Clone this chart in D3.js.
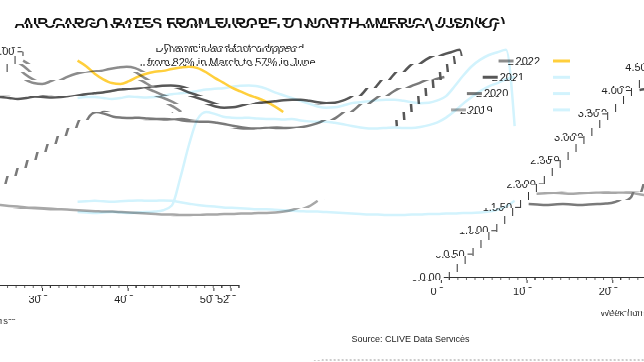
<!DOCTYPE html>
<html>
<head>
<meta charset="utf-8">
<script src="https://cdn.jsdelivr.net/npm/d3@7"></script>
<style>
  html, body { margin: 0; padding: 0; background: #fff; }
  svg { display: block; font-family: "Liberation Sans", Arial, sans-serif; }
</style>
</head>
<body>
<svg id="chart" width="644" height="362"></svg>
<script>
// weekly rates, USD/kg
var weeks = d3.range(1, 53);
var weeks2022 = d3.range(1, 26);
var rates2019 = [1.78, 1.79, 1.80, 1.79, 1.78, 1.79, 1.80, 1.81, 1.80, 1.80, 1.81, 1.80, 1.77,
    1.74, 1.71, 1.69, 1.68, 1.66, 1.65, 1.64, 1.63, 1.62, 1.62, 1.61, 1.60, 1.59,
    1.58, 1.57, 1.57, 1.56, 1.55, 1.54, 1.53, 1.52, 1.51, 1.51, 1.50, 1.50, 1.50,
    1.51, 1.51, 1.52, 1.52, 1.53, 1.53, 1.54, 1.54, 1.55, 1.57, 1.61, 1.68, 1.80];
var rates2020 = [1.56, 1.55, 1.54, 1.55, 1.56, 1.55, 1.54, 1.55, 1.56, 1.57, 1.60, 1.70, 2.30,
    3.00, 3.55, 3.70, 3.66, 3.60, 3.58, 3.57, 3.58, 3.56, 3.55, 3.55, 3.54, 3.55,
    3.52, 3.50, 3.49, 3.49, 3.47, 3.44, 3.40, 3.37, 3.35, 3.35, 3.36, 3.37, 3.36,
    3.36, 3.38, 3.42, 3.48, 3.58, 3.72, 3.88, 4.02, 4.15, 4.25, 4.32, 4.40, 4.45];
var rates2021 = [4.00, 4.02, 4.02, 4.00, 3.98, 4.00, 4.03, 4.02, 4.01, 4.02, 4.05, 4.08, 4.10,
    4.12, 4.15, 4.18, 4.20, 4.21, 4.24, 4.26, 4.27, 4.25, 4.20, 4.12, 4.06, 4.00,
    3.94, 3.88, 3.82, 3.79, 3.80, 3.84, 3.89, 3.91, 3.93, 3.95, 3.96, 3.96, 3.94,
    3.91, 3.89, 3.90, 3.95, 4.04, 4.25, 4.48, 4.68, 4.82, 4.92, 4.98, 5.03, 3.40];
var rates2022 = [4.80, 4.68, 4.52, 4.40, 4.32, 4.30, 4.36, 4.45, 4.52, 4.56, 4.58, 4.62, 4.65,
    4.67, 4.64, 4.55, 4.43, 4.33, 4.22, 4.14, 4.06, 4.00, 3.92, 3.82, 3.70];

var years = ["2022", "2021", "2020", "2019"];
var yTicks = d3.range(0, 5.01, 0.5);
var xMajor = [0, 10, 20, 30, 40, 50, 52];

var series = [
    {year: "2022", weeks: weeks2022, values: rates2022, gray: "#8c8c8c", color: "#ffcf3c"},
    {year: "2021", weeks: weeks, values: rates2021, gray: "#575757", color: "#d2f3fd"},
    {year: "2020", weeks: weeks, values: rates2020, gray: "#7a7a7a", color: "#d2f3fd"},
    {year: "2019", weeks: weeks, values: rates2019, gray: "#a8a8a8", color: "#d2f3fd"}
];

var W = 644, H = 362;
// the picture is the chart sliced into 8px bands, each band slid left a bit more
var BAND = 8, WRAP = 656, ORIG_W = 648, SHIFT0 = -22, STEP = 7.92;

var svg = d3.select("#chart");
svg.append("rect").attr("width", W).attr("height", H).attr("fill", "#fff");
var defs = svg.append("defs");
var orig = defs.append("g").attr("id", "orig");

var x = d3.scaleLinear().domain([0, 52]).range([48, 48 + 52 * 8.57]);
var y = d3.scaleLinear().domain([0, 5]).range([285, 51.25]);

var line = d3.line()
    .x(function(d) { return x(d.w); })
    .y(function(d) { return y(d.v); })
    .curve(d3.curveMonotoneX);

function points(s) {
    return s.weeks.map(function(w, i) { return {w: w, v: s.values[i]}; });
}

orig.append("text")
    .attr("x", 16).attr("y", 28)
    .attr("font-size", 15).attr("font-weight", "bold").attr("fill", "#111")
    .text("AIR CARGO RATES FROM EUROPE TO NORTH AMERICA (USD/KG)");

orig.append("text")
    .attr("x", 181).attr("y", 52)
    .attr("font-size", 11).attr("fill", "#222")
    .text("Dynamic load factor dropped");
orig.append("text")
    .attr("x", 181).attr("y", 66)
    .attr("font-size", 11).attr("fill", "#222")
    .text("from 82% in March to 57% in June");

var yAxis = orig.append("g")
    .attr("transform", "translate(48,0)")
    .call(d3.axisLeft(y).tickValues(yTicks).tickFormat(d3.format(".2f"))
        .tickSize(5).tickSizeOuter(0).tickPadding(3));
yAxis.selectAll("text").attr("font-size", 11).attr("fill", "#222").attr("font-family", null);
yAxis.selectAll("line, path").attr("stroke", "#333");

var xMinor = orig.append("g")
    .attr("transform", "translate(0,285)")
    .call(d3.axisBottom(x).tickValues(d3.range(0, 53)).tickFormat("").tickSize(3).tickSizeOuter(0));
xMinor.selectAll("line, path").attr("stroke", "#666");

var xAxis = orig.append("g")
    .attr("transform", "translate(0,285)")
    .call(d3.axisBottom(x).tickValues(xMajor).tickFormat(d3.format("d"))
        .tickSize(6).tickSizeOuter(0).tickPadding(4));
xAxis.selectAll("text").attr("font-size", 11).attr("fill", "#222").attr("font-family", null);
xAxis.selectAll("line, path").attr("stroke", "#333");

orig.append("text")
    .attr("x", 239).attr("y", 324)
    .attr("font-size", 9.5).attr("fill", "#333")
    .text("Week numbers");

orig.append("text")
    .attr("x", 14).attr("y", 350)
    .attr("font-size", 9).attr("fill", "#222")
    .text("Source: CLIVE Data Services");

orig.append("line")
    .attr("x1", 0).attr("x2", ORIG_W).attr("y1", 368).attr("y2", 368)
    .attr("stroke", "#999").attr("stroke-dasharray", "2,2");

orig.selectAll("path.series")
    .data(series.slice().reverse())
    .enter().append("path")
    .attr("class", "series")
    .attr("d", function(s) { return line(points(s)); })
    .attr("fill", "none")
    .attr("stroke", function(s) { return s.gray; })
    .attr("stroke-width", 2.5);

var legend = orig.selectAll("g.legend")
    .data(series)
    .enter().append("g")
    .attr("class", "legend")
    .attr("transform", function(s, i) { return "translate(532," + (61 + i * 16.3) + ")"; });
legend.append("line")
    .attr("x2", 15)
    .attr("stroke", function(s) { return s.gray; })
    .attr("stroke-width", 3);
legend.append("text")
    .attr("x", 17).attr("dy", "0.35em")
    .attr("font-size", 11).attr("fill", "#222")
    .text(function(s) { return s.year; });

// draw the bands
var view = svg.append("g");
var nBands = Math.ceil(372 / BAND);
for (var j = 0; j < nBands; j++) {
    var s = SHIFT0 + STEP * j;
    defs.append("clipPath").attr("id", "nw" + j)
        .append("rect")
        .attr("x", 0).attr("y", j * BAND)
        .attr("width", Math.max(0, Math.min(W, ORIG_W - s))).attr("height", BAND);
    view.append("g").attr("clip-path", "url(#nw" + j + ")")
        .append("use").attr("href", "#orig")
        .attr("transform", "translate(" + (-s) + ",0)");
    if (s > WRAP - W) {
        defs.append("clipPath").attr("id", "wr" + j)
            .append("rect")
            .attr("x", WRAP - s).attr("y", j * BAND - BAND)
            .attr("width", W - (WRAP - s)).attr("height", BAND);
        view.append("g").attr("clip-path", "url(#wr" + j + ")")
            .append("use").attr("href", "#orig")
            .attr("transform", "translate(" + (WRAP - s) + "," + (-BAND) + ")");
    }
}

// colour layer, not sliced
var colour = svg.append("g")
    .attr("transform", "translate(21,0)")
    .style("mix-blend-mode", "multiply");
colour.selectAll("path")
    .data(series.slice().reverse())
    .enter().append("path")
    .attr("d", function(s) { return line(points(s)); })
    .attr("fill", "none")
    .attr("stroke", function(s) { return s.color; })
    .attr("stroke-width", 2.5);
colour.selectAll("line")
    .data(series)
    .enter().append("line")
    .attr("x1", 532).attr("x2", 549)
    .attr("y1", function(s, i) { return 61 + i * 16.3; })
    .attr("y2", function(s, i) { return 61 + i * 16.3; })
    .attr("stroke", function(s) { return s.color; })
    .attr("stroke-width", 3);
</script>
</body>
</html>
